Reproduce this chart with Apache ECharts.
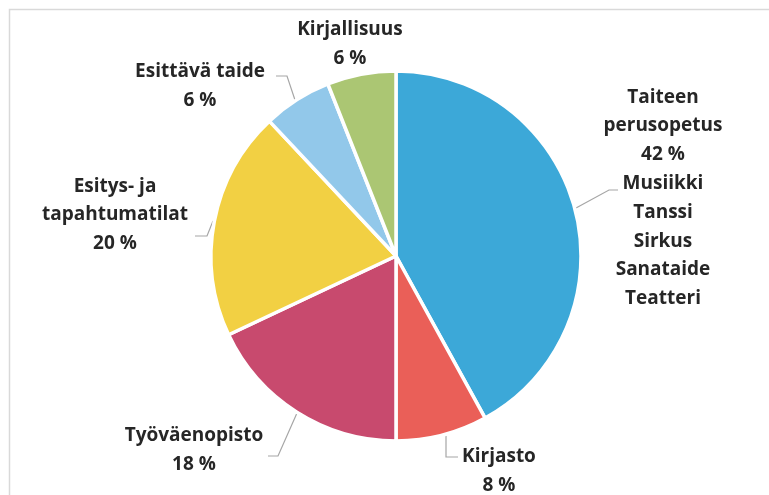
<!DOCTYPE html>
<html>
<head>
<meta charset="utf-8">
<script src="https://cdn.jsdelivr.net/npm/echarts@6/dist/echarts.min.js"></script>
<style>
  html, body { margin: 0; padding: 0; background: #fff; }
  #chart { width: 769px; height: 495px; }
</style>
</head>
<body>
<div id="chart"></div>
<script>
    'use strict';

    // data
    var categories = ['Taiteen\nperusopetus', 'Kirjasto', 'Työväenopisto', 'Esitys- ja\ntapahtumatilat', 'Esittävä taide', 'Kirjallisuus'];
    var shares = [42, 8, 18, 20, 6, 6];
    var artForms = ['Musiikki', 'Tanssi', 'Sirkus', 'Sanataide', 'Teatteri'];
    var colors = ['#3ca8d8', '#ea5f58', '#c84a6e', '#f2d043', '#92c8ea', '#abc673'];

    // label placement (center x, center y) and leader lines
    var labelSpots = [
        { x: 663, y: 198, line: [[576, 208], [609, 190], [618, 190]] },
        { x: 499, y: 471, line: [[446, 436], [446, 457], [458, 457]] },
        { x: 194, y: 450, line: [[297, 413], [278, 456], [268, 456]] },
        { x: 115, y: 215, line: [[213, 221], [207, 236], [195, 236]] },
        { x: 200, y: 86, line: [[295, 100], [287, 76], [276, 76]] },
        { x: 350, y: 44, line: null }
    ];

    var pieData = [];
    for (var i = 0; i < categories.length; i++) {
        pieData.push({
            name: categories[i],
            value: shares[i],
            itemStyle: { color: colors[i] },
            labelLine: { show: labelSpots[i].line !== null }
        });
    }

    var chart = echarts.init(document.getElementById('chart'));

    var option = {
        backgroundColor: '#fff',
        animation: false,
        graphic: [{
            type: 'rect',
            shape: { x: 9.5, y: 9.5, width: 800, height: 600 },
            style: { fill: 'none', stroke: '#d9d9d9', lineWidth: 1.5 },
            silent: true
        }],
        series: [{
            type: 'pie',
            center: [396, 256],
            radius: 185,
            startAngle: 90,
            clockwise: true,
            data: pieData,
            itemStyle: { borderColor: '#fff', borderWidth: 3.5 },
            label: {
                show: true,
                fontFamily: 'Open Sans',
                fontWeight: 'bold',
                fontSize: 19,
                lineHeight: 28.8,
                color: '#262626',
                align: 'center',
                formatter: function (p) {
                    var txt = p.name + '\n' + p.value + ' %';
                    if (p.dataIndex === 0) {
                        txt += '\n' + artForms.join('\n');
                    }
                    return txt;
                }
            },
            labelLine: {
                show: true,
                lineStyle: { color: '#a6a6a6', width: 1.2 }
            },
            labelLayout: function (params) {
                var s = labelSpots[params.dataIndex];
                var out = { x: s.x, y: s.y, align: 'center', verticalAlign: 'middle' };
                if (s.line) {
                    out.labelLinePoints = s.line;
                }
                return out;
            }
        }]
    };

    chart.setOption(option);
</script>
</body>
</html>
